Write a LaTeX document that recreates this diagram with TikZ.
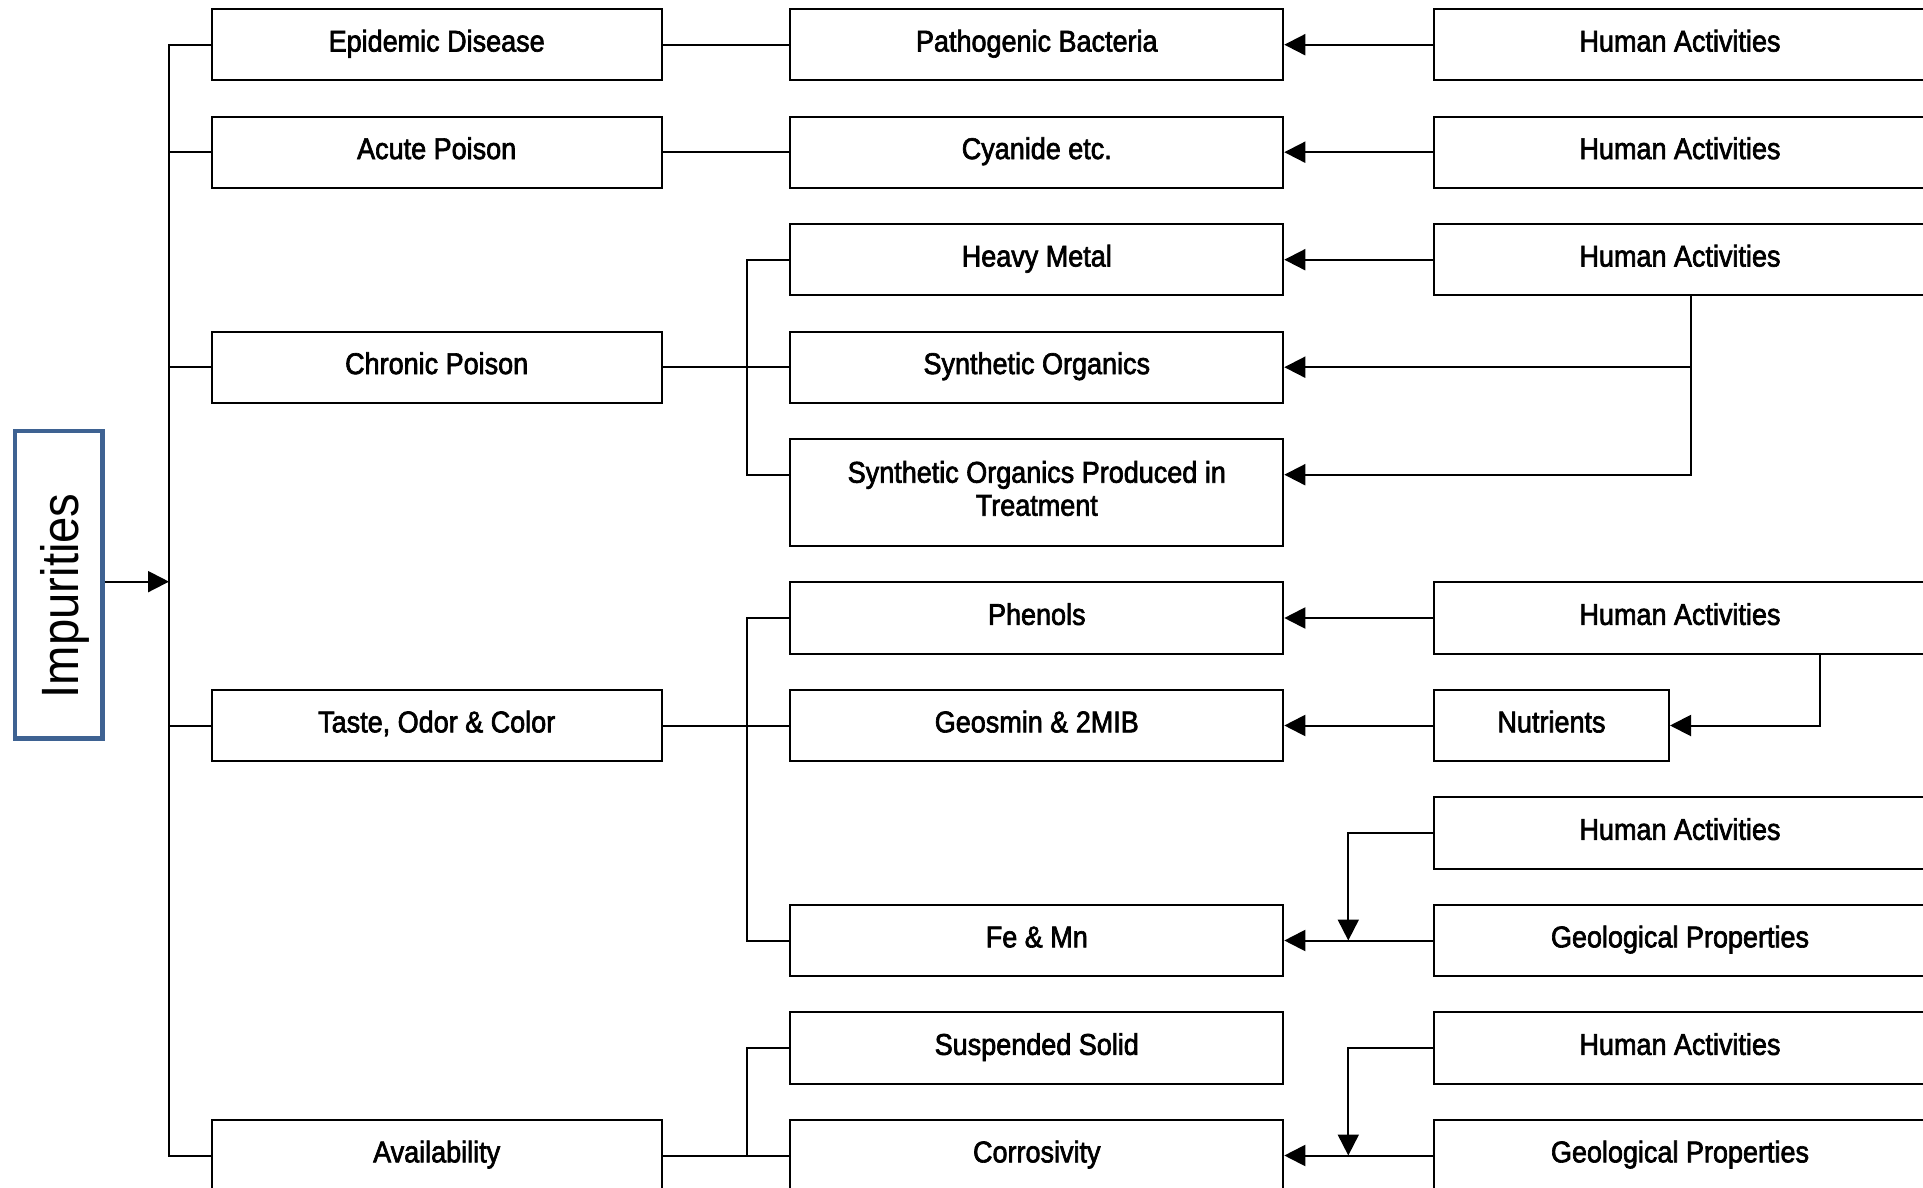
\documentclass[tikz,border=0pt]{standalone}
\usepackage{fontspec}
\setmainfont[FakeStretch=0.9]{Liberation Sans}
\newfontfamily\boxfont[FakeStretch=0.9,FakeBold=2.2]{Liberation Sans}
\usetikzlibrary{arrows.meta}
\definecolor{impblue}{RGB}{62,98,146}
\begin{document}
\begin{tikzpicture}[x=1pt,y=-1pt,
  box/.style={draw=black, line width=2pt, rectangle, inner sep=0pt, minimum height=71.3pt, text height=21.5pt, text depth=7.8pt, font=\boxfont\fontsize{30}{33}\selectfont},
  cola/.style={box, minimum width=450pt},
  colb/.style={box, minimum width=493pt},
  colc/.style={box, minimum width=492pt},
  conn/.style={line width=2pt},
  arr/.style={conn, -{Triangle[length=21pt,width=21pt]}},
  lbl/.style={inner sep=0pt, font=\boxfont\fontsize{30}{33}\selectfont}
]
\useasboundingbox (0,0) rectangle (1923,1188);
\clip (0,0) rectangle (1923,1188);

% helper coordinates
\coordinate (tr) at (169,0);
\coordinate (bus) at (747.3,0);
\coordinate (v3) at (1691.3,0);
\coordinate (v6) at (1819.7,0);
\coordinate (vd) at (1348.3,0);

% Impurities
\node[draw=impblue, line width=4.7pt, minimum width=87.3pt, minimum height=307.3pt, inner sep=0pt] (imp) at (58.65,584.65) {};
\node[rotate=90, anchor=base, inner sep=0pt, font=\fontsize{52.5}{60}\selectfont] (imptxt) at (78.3,595.8) {Impurities};

% column 1
\node[cola] (epi) at (436.7,44.7) {Epidemic Disease};
\node[cola] (acute) at (436.7,152.2) {Acute Poison};
\node[cola] (chronic) at (436.7,367.2) {Chronic Poison};
\node[cola] (taste) at (436.7,725.5) {Taste, Odor \& Color};
\node[cola] (avail) at (436.7,1155.5) {Availability};

% column 2
\node[colb] (patho) at (1036.8,44.7) {Pathogenic Bacteria};
\node[colb] (cyan) at (1036.8,152.2) {Cyanide etc.};
\node[colb] (heavy) at (1036.8,259.7) {Heavy Metal};
\node[colb] (synth) at (1036.8,367.2) {Synthetic Organics};
\node[colb, minimum height=107pt] (synthp) at (1036.8,492.5) {};
\node[lbl, anchor=base] (synthpa) at (1036.8,482.7) {Synthetic Organics Produced in};
\node[lbl, anchor=base] (synthpb) at (1036.8,515.7) {Treatment};
\node[colb] (phen) at (1036.8,618) {Phenols};
\node[colb] (geos) at (1036.8,725.5) {Geosmin \& 2MIB};
\node[colb] (femn) at (1036.8,940.5) {Fe \& Mn};
\node[colb] (susp) at (1036.8,1048) {Suspended Solid};
\node[colb] (corr) at (1036.8,1155.5) {Corrosivity};

% column 3
\node[colc] (ha1) at (1680,44.7) {Human Activities};
\node[colc] (ha2) at (1680,152.2) {Human Activities};
\node[colc] (ha3) at (1680,259.7) {Human Activities};
\node[colc] (ha6) at (1680,618) {Human Activities};
\node[box, minimum width=235pt] (nut) at (1551.5,725.5) {Nutrients};
\node[colc] (ha8) at (1680,833) {Human Activities};
\node[colc] (geo9) at (1680,940.5) {Geological Properties};
\node[colc] (ha10) at (1680,1048) {Human Activities};
\node[colc] (geo11) at (1680,1155.5) {Geological Properties};

\coordinate (spw) at ([yshift=17.8pt]synthp.west);
\coordinate (spe) at ([yshift=17.8pt]synthp.east);

% trunk
\draw[arr] ([yshift=3pt]imp.east) -- ([yshift=3pt]imp.east -| tr);
\draw[conn] (epi.west) -- (epi.west -| tr) -- (avail.west -| tr) -- (avail.west);
\draw[conn] (acute.west) -- (acute.west -| tr);
\draw[conn] (chronic.west) -- (chronic.west -| tr);
\draw[conn] (taste.west) -- (taste.west -| tr);

% column 1 -> column 2
\draw[conn] (epi.east) -- (patho.west);
\draw[conn] (acute.east) -- (cyan.west);
\draw[conn] (chronic.east) -- (synth.west);
\draw[conn] (heavy.west) -- (heavy.west -| bus) -- (spw -| bus) -- (spw);
\draw[conn] (taste.east) -- (geos.west);
\draw[conn] (phen.west) -- (phen.west -| bus) -- (femn.west -| bus) -- (femn.west);
\draw[conn] (avail.east) -- (corr.west);
\draw[conn] (susp.west) -- (susp.west -| bus) -- (corr.west -| bus);

% column 3 -> column 2
\draw[arr] (ha1.west) -- (patho.east);
\draw[arr] (ha2.west) -- (cyan.east);
\draw[arr] (ha3.west) -- (heavy.east);
\draw[arr] (ha3.south -| v3) -- (spe -| v3) -- (spe);
\draw[arr] (synth.east -| v3) -- (synth.east);
\draw[arr] (ha6.west) -- (phen.east);
\draw[arr] (ha6.south -| v6) -- (nut.east -| v6) -- (nut.east);
\draw[arr] (nut.west) -- (geos.east);
\draw[arr] (ha8.west) -- (ha8.west -| vd) -- (femn.east -| vd);
\draw[arr] (geo9.west) -- (femn.east);
\draw[arr] (ha10.west) -- (ha10.west -| vd) -- (corr.east -| vd);
\draw[arr] (geo11.west) -- (corr.east);
\end{tikzpicture}
\end{document}
